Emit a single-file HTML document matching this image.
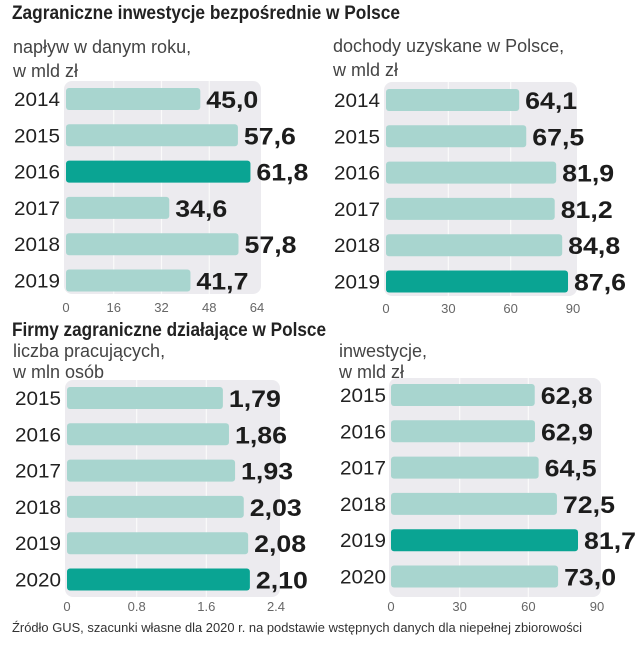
<!DOCTYPE html>
<html><head><meta charset="utf-8"><style>
body{margin:0;background:#fff;}
svg text{font-family:"Liberation Sans",sans-serif;}
</style></head><body>
<svg id="c" width="640" height="640" viewBox="0 0 640 640" xmlns="http://www.w3.org/2000/svg">
<text x="12" y="19" font-size="19" font-weight="bold" fill="#222" textLength="388" lengthAdjust="spacingAndGlyphs">Zagraniczne inwestycje bezpośrednie w Polsce</text>
<text x="12" y="336" font-size="19" font-weight="bold" fill="#222" textLength="314" lengthAdjust="spacingAndGlyphs">Firmy zagraniczne działające w Polsce</text>
<text x="12" y="632" font-size="12.5" fill="#333" textLength="570" lengthAdjust="spacingAndGlyphs">Źródło GUS, szacunki własne dla 2020 r. na podstawie wstępnych danych dla niepełnej zbiorowości</text>
</svg>
<script>
const p1Years=["2014","2015","2016","2017","2018","2019"];
const p1Values=[45.0,57.6,61.8,34.6,57.8,41.7];
const p1Labels=["45,0","57,6","61,8","34,6","57,8","41,7"];
const p1Ticks=[0,16,32,48,64];
const p1TickLabels=["0","16","32","48","64"];
const p1Highlight="2016";

const p2Years=["2014","2015","2016","2017","2018","2019"];
const p2Values=[64.1,67.5,81.9,81.2,84.8,87.6];
const p2Labels=["64,1","67,5","81,9","81,2","84,8","87,6"];
const p2Ticks=[0,30,60,90];
const p2TickLabels=["0","30","60","90"];
const p2Highlight="2019";

const p3Years=["2015","2016","2017","2018","2019","2020"];
const p3Values=[1.79,1.86,1.93,2.03,2.08,2.10];
const p3Labels=["1,79","1,86","1,93","2,03","2,08","2,10"];
const p3Ticks=[0,0.8,1.6,2.4];
const p3TickLabels=["0","0.8","1.6","2.4"];
const p3Highlight="2020";

const p4Years=["2015","2016","2017","2018","2019","2020"];
const p4Values=[62.8,62.9,64.5,72.5,81.7,73.0];
const p4Labels=["62,8","62,9","64,5","72,5","81,7","73,0"];
const p4Ticks=[0,30,60,90];
const p4TickLabels=["0","30","60","90"];
const p4Highlight="2019";

const NS="http://www.w3.org/2000/svg";
const svg=document.getElementById('c');
function mk(t,a){const e=document.createElementNS(NS,t);for(const k in a)e.setAttribute(k,a[k]);return e;}

function panel(id,cfg,years,values,labels,ticks,tickLabels,hl){
  const g=mk('g',{});
  
  
  svg.appendChild(g);
  const max=ticks[ticks.length-1];
  const xs=v=>cfg.x0+v/max*(cfg.x1-cfg.x0);
  const ys=i=>cfg.yTop+i*cfg.step;
  const bg=mk('rect',{x:cfg.x0-2,y:cfg.bgTop,width:cfg.x1-cfg.x0+6,height:cfg.bgBot-cfg.bgTop,rx:8,fill:'#ecebef'});
  
  
  g.appendChild(bg);
  ticks.forEach((t,i)=>{
    if(i>0&&i<ticks.length-1){
      const l=mk('line',{x1:xs(t),x2:xs(t),y1:cfg.bgTop,y2:cfg.bgBot,stroke:'#fafafa','stroke-width':1.2});
      
      
      g.appendChild(l);
    }
    const tx=mk('text',{x:xs(t),y:cfg.tickY,'font-size':13,fill:'#666','text-anchor':'middle'});
    tx.textContent=tickLabels[i];
    
    
    g.appendChild(tx);
  });
  years.forEach((y,i)=>{
    const cy=ys(i);
    const yl=mk('text',{x:cfg.yx,y:cy+7,'font-size':19,fill:'#222',textLength:46,lengthAdjust:'spacingAndGlyphs'});
    yl.textContent=y;
    
    
    g.appendChild(yl);
    const b=mk('rect',{x:cfg.x0,y:cy-11,width:xs(values[i])-cfg.x0,height:22,rx:3,fill:y===hl?'#0aa493':'#a8d5cf'});
    
    
    g.appendChild(b);
    const vl=mk('text',{x:xs(values[i])+6,y:cy+9,'font-size':24,'font-weight':'bold',fill:'#1c1c1c',textLength:labels[i].length*13,lengthAdjust:'spacingAndGlyphs'});
    vl.textContent=labels[i];
    
    
    g.appendChild(vl);
  });
  cfg.sub.forEach((s,i)=>{
    const st=mk('text',{x:cfg.subX,y:cfg.subY+i*cfg.subStep,'font-size':18,fill:'#444'});
    st.textContent=s;
    
    
    g.appendChild(st);
  });
}
panel('inflow',{x0:66,x1:257,yTop:99,step:36.3,bgTop:81,bgBot:294,tickY:312,sub:["napływ w danym roku,","w mld zł"],subX:13,subY:53,subStep:24,yx:14},p1Years,p1Values,p1Labels,p1Ticks,p1TickLabels,p1Highlight);
panel('income',{x0:386,x1:573,yTop:100,step:36.3,bgTop:82,bgBot:296,tickY:313,sub:["dochody uzyskane w Polsce,","w mld zł"],subX:333,subY:52,subStep:24,yx:334},p2Years,p2Values,p2Labels,p2Ticks,p2TickLabels,p2Highlight);
panel('employees',{x0:67,x1:276,yTop:398,step:36.3,bgTop:380,bgBot:597,tickY:611,sub:["liczba pracujących,","w mln osób"],subX:13,subY:357,subStep:21,yx:15},p3Years,p3Values,p3Labels,p3Ticks,p3TickLabels,p3Highlight);
panel('investments',{x0:391,x1:597,yTop:395,step:36.3,bgTop:378,bgBot:597,tickY:611,sub:["inwestycje,","w mld zł"],subX:339,subY:357,subStep:21,yx:340},p4Years,p4Values,p4Labels,p4Ticks,p4TickLabels,p4Highlight);
</script>
</body></html>
